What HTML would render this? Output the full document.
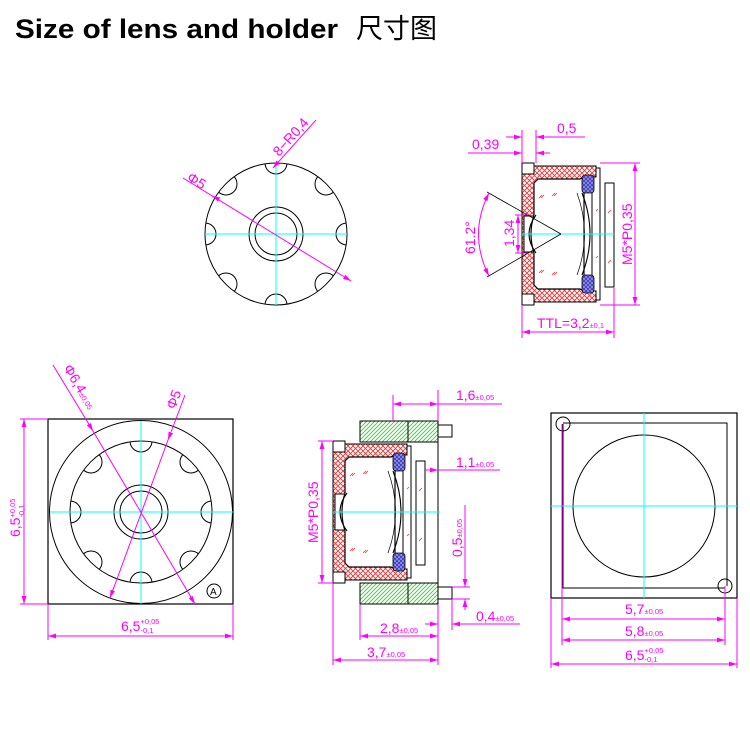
<!DOCTYPE html>
<html><head><meta charset="utf-8"><style>
html,body{margin:0;padding:0;background:#fff;}
svg{display:block;}
text{font-family:"Liberation Sans","Noto Sans CJK SC",sans-serif;}
.m{fill:#f0f;font-size:14px;}
.s{fill:#f0f;font-size:7.5px;}
</style></head><body>
<svg width="750" height="750" viewBox="0 0 750 750" xmlns="http://www.w3.org/2000/svg">
<defs>
<pattern id="red" width="5" height="5" patternUnits="userSpaceOnUse">
<rect width="5" height="5" fill="#fff"/>
<path d="M0,0L5,5M5,0L0,5" stroke="#e33" stroke-width="0.9"/>
</pattern>
<pattern id="grn" width="4" height="4" patternUnits="userSpaceOnUse">
<rect width="4" height="4" fill="#fff"/>
<path d="M0,4L4,0M-1,1L1,-1M3,5L5,3" stroke="#3c3" stroke-width="0.9"/>
</pattern>
<pattern id="blu" width="4" height="4" patternUnits="userSpaceOnUse">
<rect width="4" height="4" fill="#99c"/>
<path d="M0,0L4,4M4,0L0,4" stroke="#33c" stroke-width="0.8"/>
</pattern>
<marker id="a" viewBox="0 0 10 6" refX="10" refY="3" markerWidth="8" markerHeight="5" orient="auto-start-reverse">
<path d="M0,0L10,3L0,6z" fill="#f0f"/>
</marker>
<clipPath id="c1"><circle cx="276" cy="234" r="71"/></clipPath>
<clipPath id="c2"><circle cx="141" cy="512" r="71"/></clipPath>

<g id="lens">
<path d="M0,11H12V3H74V14H62L58,16H16L12,20V122L16,126H58L62,128H74V139H12V131H0z M2,53V89H14V53z" fill="url(#red)" fill-rule="evenodd" stroke="#000" stroke-width="1"/>
<rect x="0" y="0" width="12" height="11" fill="#fff" stroke="#000"/>
<rect x="0" y="131" width="12" height="11" fill="#fff" stroke="#000"/>
<path d="M16,16H58L62,14V128L58,126H16L12,122V90Q6,71 12,52V20z" fill="#fff" stroke="#000" stroke-width="1.2"/>
<path d="M14,52Q0,71 14,90 M60,30Q76,71 60,112" fill="none" stroke="#000" stroke-width="1.1"/>
<path d="M55,30Q70,71 55,112" fill="none" stroke="#000" stroke-width="0.7"/>
<rect x="60" y="12" width="12" height="18" rx="3" fill="url(#blu)" stroke="#000" stroke-width="0.8"/>
<rect x="60" y="112" width="12" height="18" rx="3" fill="url(#blu)" stroke="#000" stroke-width="0.8"/>
<path d="M74,5H78V137H74M70,30V112" fill="none" stroke="#000" stroke-width="1"/>
<rect x="83" y="20" width="9" height="104" fill="#fff" stroke="#000" stroke-width="1"/>
<g stroke="#e33" stroke-width="0.8">
<path d="M17,35l3,-3M19,35l3,-3M30,33l3,-3M32,33l3,-3M17,110l3,-3M19,110l3,-3M30,112l3,-3M32,112l3,-3M74,48l2,-2M74,95l2,-2M86,50l3,-3M86,100l3,-3"/>
</g>
</g>
</defs>

<text x="15" y="38" font-size="27" font-weight="bold" fill="#000" textLength="323" lengthAdjust="spacingAndGlyphs">Size of lens and holder</text>
<text x="356" y="38" font-size="27" fill="#000" style="font-family:'Noto Sans CJK SC',sans-serif">尺寸图</text>

<!-- top front view -->
<g fill="none" stroke="#000" stroke-width="1">
<circle cx="276" cy="234" r="71"/>
<circle cx="276" cy="234" r="27"/>
<circle cx="276" cy="234" r="21"/>
<g clip-path="url(#c1)">
<circle cx="276" cy="163" r="11"/><circle cx="276" cy="305" r="11"/>
<circle cx="205" cy="234" r="11"/><circle cx="347" cy="234" r="11"/>
<circle cx="226" cy="184" r="11"/><circle cx="326" cy="184" r="11"/>
<circle cx="226" cy="284" r="11"/><circle cx="326" cy="284" r="11"/>
</g>
</g>
<g stroke="#0ff" stroke-width="1"><line x1="276" y1="163" x2="276" y2="305"/><line x1="205" y1="234" x2="347" y2="234"/></g>
<g stroke="#f0f" stroke-width="1" fill="none">
<line x1="183" y1="178" x2="351" y2="281" marker-end="url(#a)"/>
<line x1="212" y1="196" x2="216" y2="198" marker-start="url(#a)"/>
<line x1="316" y1="120" x2="273" y2="168" marker-end="url(#a)"/>
</g>
<text class="m" transform="translate(186,180) rotate(31)">Φ5</text>
<text class="m" transform="translate(279,157) rotate(-48)">8−R0,4</text>

<!-- top right section -->
<use href="#lens" transform="translate(522,163)"/>
<line x1="522" y1="234" x2="614" y2="234" stroke="#0ff"/>
<g stroke="#000" stroke-width="0.8"><line x1="561" y1="234" x2="487" y2="192"/><line x1="561" y1="234" x2="487" y2="277"/></g>
<g stroke="#f0f" stroke-width="1" fill="none">
<path d="M489,193Q468,234 489,276" marker-start="url(#a)" marker-end="url(#a)"/>
<line x1="518" y1="215" x2="518" y2="253" marker-start="url(#a)" marker-end="url(#a)"/>
<line x1="515" y1="215" x2="528" y2="215"/><line x1="515" y1="253" x2="528" y2="253"/>
<line x1="522" y1="130" x2="522" y2="163"/><line x1="536" y1="130" x2="536" y2="163"/>
<line x1="468" y1="153" x2="522" y2="153" marker-end="url(#a)"/><line x1="536" y1="153" x2="550" y2="153" marker-start="url(#a)"/>
<line x1="506" y1="137" x2="522" y2="137" marker-end="url(#a)"/><line x1="536" y1="137" x2="585" y2="137" marker-start="url(#a)"/>
<line x1="600" y1="163" x2="640" y2="163"/><line x1="600" y1="305" x2="640" y2="305"/>
<line x1="635" y1="163" x2="635" y2="305" marker-start="url(#a)" marker-end="url(#a)"/>
<line x1="522" y1="305" x2="522" y2="338"/><line x1="614" y1="288" x2="614" y2="338"/>
<line x1="522" y1="332" x2="614" y2="332" marker-start="url(#a)" marker-end="url(#a)"/>
</g>
<text class="m" x="472" y="149">0,39</text>
<text class="m" x="557" y="133">0,5</text>
<text class="m" transform="translate(475,254) rotate(-90)">61.2°</text>
<text class="m" transform="translate(514,247) rotate(-90)">1,34</text>
<text class="m" transform="translate(632,265) rotate(-90)">M5*P0,35</text>
<text class="m" x="537" y="328">TTL=3,2<tspan class="s">±0,1</tspan></text>

<!-- bottom left square -->
<rect x="48" y="419" width="185" height="185" fill="none" stroke="#000" stroke-width="1.2"/>
<g fill="none" stroke="#000" stroke-width="1">
<circle cx="141" cy="512" r="91.5"/>
<circle cx="141" cy="512" r="71"/>
<circle cx="141" cy="512" r="27"/>
<circle cx="141" cy="512" r="21"/>
<g clip-path="url(#c2)">
<circle cx="141" cy="441" r="11"/><circle cx="141" cy="583" r="11"/>
<circle cx="70" cy="512" r="11"/><circle cx="212" cy="512" r="11"/>
<circle cx="91" cy="462" r="11"/><circle cx="191" cy="462" r="11"/>
<circle cx="91" cy="562" r="11"/><circle cx="191" cy="562" r="11"/>
</g>
<circle cx="214" cy="591" r="7"/>
</g>
<text x="210" y="595" font-size="10" fill="#000">A</text>
<g stroke="#0ff" stroke-width="1"><line x1="141" y1="421" x2="141" y2="604"/><line x1="50" y1="512" x2="233" y2="512"/></g>
<g stroke="#f0f" stroke-width="1" fill="none">
<line x1="53" y1="365" x2="93" y2="431" marker-end="url(#a)"/><line x1="93" y1="431" x2="195" y2="604"/>
<line x1="195" y1="604" x2="190" y2="596" marker-start="url(#a)"/>
<line x1="185" y1="395" x2="168" y2="440" marker-end="url(#a)"/><line x1="168" y1="440" x2="110" y2="598"/>
<line x1="110" y1="598" x2="114" y2="587" marker-start="url(#a)"/>
<line x1="20" y1="419" x2="48" y2="419"/><line x1="20" y1="604" x2="48" y2="604"/>
<line x1="24" y1="419" x2="24" y2="604" marker-start="url(#a)" marker-end="url(#a)"/>
<line x1="48" y1="604" x2="48" y2="640"/><line x1="233" y1="604" x2="233" y2="640"/>
<line x1="48" y1="636" x2="233" y2="636" marker-start="url(#a)" marker-end="url(#a)"/>
</g>
<text class="m" transform="translate(63,368) rotate(59)">Φ6,4<tspan class="s">±0,05</tspan></text>
<text class="m" transform="translate(175,410) rotate(-70)">Φ5</text>
<text class="m" transform="translate(20,537) rotate(-90)">6,5<tspan class="s" dy="-5">+0,05</tspan><tspan class="s" dx="-19" dy="9">-0,1</tspan></text>
<text class="m" x="121" y="631">6,5<tspan class="s" dy="-7">+0,05</tspan><tspan class="s" dx="-19" dy="9">-0,1</tspan></text>

<!-- middle section -->
<rect x="360" y="421" width="48" height="21" fill="url(#grn)" stroke="#000"/>
<rect x="360" y="583" width="48" height="21" fill="url(#grn)" stroke="#000"/>
<path d="M408,421H438V442H408z M408,583H438V604H408z" fill="url(#grn)" stroke="#000"/>
<path d="M408,442H438V583H408" fill="none" stroke="#000"/>
<rect x="438" y="425" width="14" height="12" fill="#fff" stroke="#000"/>
<rect x="438" y="587" width="14" height="12" fill="#fff" stroke="#000"/>
<use href="#lens" transform="translate(333,441)"/>
<line x1="333" y1="512" x2="440" y2="512" stroke="#0ff"/>
<g stroke="#f0f" stroke-width="1" fill="none">
<line x1="393" y1="395" x2="393" y2="421"/><line x1="438" y1="390" x2="438" y2="421"/>
<line x1="393" y1="404" x2="438" y2="404" marker-start="url(#a)" marker-end="url(#a)"/><line x1="438" y1="404" x2="502" y2="404"/>
<line x1="425" y1="470" x2="438" y2="470" marker-end="url(#a)"/><line x1="438" y1="470" x2="500" y2="470"/>
<line x1="465" y1="505" x2="465" y2="587"/><line x1="452" y1="587" x2="470" y2="587"/><line x1="452" y1="599" x2="470" y2="599"/>
<line x1="465" y1="580" x2="465" y2="587" marker-end="url(#a)"/><line x1="465" y1="599" x2="465" y2="610" marker-start="url(#a)"/>
<line x1="452" y1="599" x2="452" y2="630"/>
<line x1="425" y1="624" x2="438" y2="624" marker-end="url(#a)"/><line x1="452" y1="624" x2="520" y2="624" marker-start="url(#a)"/>
<line x1="360" y1="604" x2="360" y2="640"/><line x1="438" y1="604" x2="438" y2="665"/>
<line x1="360" y1="636" x2="438" y2="636" marker-start="url(#a)" marker-end="url(#a)"/>
<line x1="333" y1="583" x2="333" y2="665"/>
<line x1="333" y1="660" x2="438" y2="660" marker-start="url(#a)" marker-end="url(#a)"/>
<line x1="318" y1="441" x2="333" y2="441"/><line x1="318" y1="583" x2="333" y2="583"/>
<line x1="322" y1="441" x2="322" y2="583" marker-start="url(#a)" marker-end="url(#a)"/>
</g>
<text class="m" x="456" y="400">1,6<tspan class="s">±0,05</tspan></text>
<text class="m" x="456" y="467">1,1<tspan class="s">±0,05</tspan></text>
<text class="m" transform="translate(462,557) rotate(-90)">0,5<tspan class="s">±0,05</tspan></text>
<text class="m" x="476" y="621">0,4<tspan class="s">±0,05</tspan></text>
<text class="m" x="380" y="633">2,8<tspan class="s">±0,05</tspan></text>
<text class="m" x="367" y="657">3,7<tspan class="s">±0,05</tspan></text>
<text class="m" transform="translate(318,543) rotate(-90)">M5*P0,35</text>

<!-- bottom right square -->
<rect x="551" y="413" width="186" height="185" fill="none" stroke="#000" stroke-width="1.2"/>
<path d="M563,423H727V586M725,588H563V424" fill="none" stroke="#000" stroke-width="1"/>
<circle cx="644" cy="506" r="71" fill="none" stroke="#000"/>
<circle cx="563" cy="424" r="7" fill="none" stroke="#000"/>
<circle cx="725" cy="586" r="7" fill="none" stroke="#000"/>
<g stroke="#0ff" stroke-width="1"><line x1="644" y1="413" x2="644" y2="598"/><line x1="551" y1="506" x2="737" y2="506"/></g>
<g stroke="#f0f" stroke-width="1" fill="none">
<line x1="562" y1="424" x2="562" y2="645"/><line x1="725" y1="586" x2="725" y2="645"/>
<line x1="551" y1="598" x2="551" y2="668"/><line x1="737" y1="598" x2="737" y2="668"/>
<line x1="562" y1="619" x2="725" y2="619" marker-start="url(#a)" marker-end="url(#a)"/>
<line x1="562" y1="640" x2="725" y2="640" marker-start="url(#a)" marker-end="url(#a)"/>
<line x1="551" y1="664" x2="737" y2="664" marker-start="url(#a)" marker-end="url(#a)"/>
</g>
<text class="m" x="625" y="614">5,7<tspan class="s">±0,05</tspan></text>
<text class="m" x="625" y="636">5,8<tspan class="s">±0,05</tspan></text>
<text class="m" x="625" y="660">6,5<tspan class="s" dy="-7">+0,05</tspan><tspan class="s" dx="-19" dy="9">-0,1</tspan></text>
</svg>
</body></html>
